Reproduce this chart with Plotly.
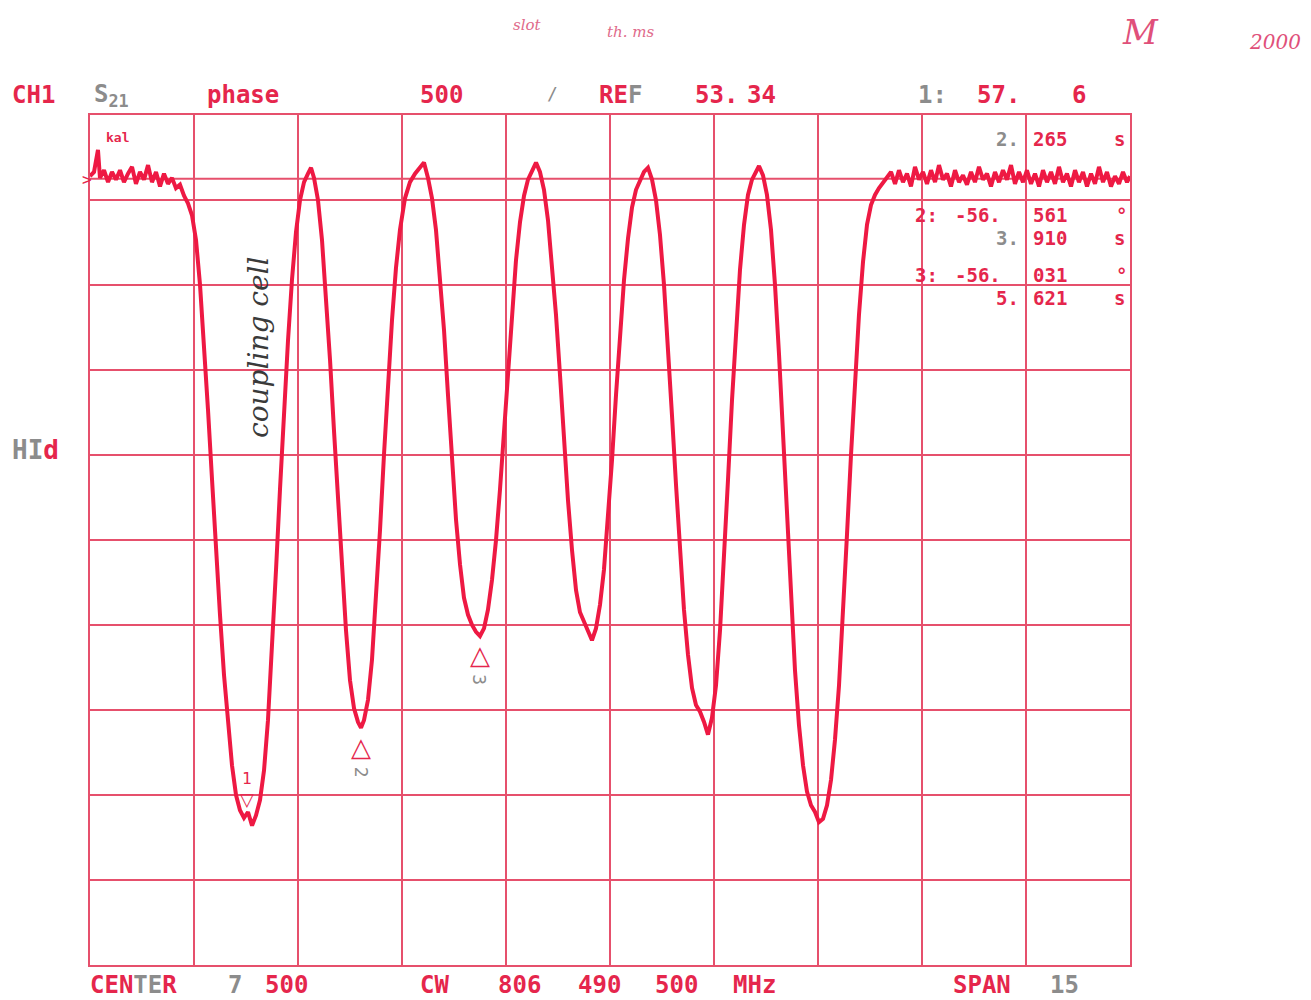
import plotly.graph_objects as go

# Sweep time (s) and S21 phase trace (in graticule divisions, 0 = bottom, 10 = top)
sweep_time = [
    0.000, 0.058, 0.115, 0.144, 0.202, 0.260, 0.317, 0.375, 0.433, 0.490, 0.548, 0.606, 0.663,
    0.721, 0.779, 0.837, 0.894, 0.952, 1.010, 1.067, 1.125, 1.183, 1.240, 1.298, 1.356, 1.413,
    1.471, 1.529, 1.587, 1.644, 1.702, 1.760, 1.817, 1.875, 1.933, 1.990, 2.048, 2.106, 2.163,
    2.221, 2.279, 2.337, 2.394, 2.452, 2.510, 2.567, 2.625, 2.683, 2.740, 2.798, 2.856, 2.913,
    2.971, 3.029, 3.087, 3.144, 3.188, 3.231, 3.288, 3.346, 3.404, 3.462, 3.519, 3.577, 3.635,
    3.692, 3.750, 3.808, 3.865, 3.909, 3.952, 4.010, 4.067, 4.125, 4.183, 4.240, 4.298, 4.356,
    4.413, 4.471, 4.543, 4.615, 4.688, 4.774, 4.817, 4.875, 4.933, 4.990, 5.048, 5.106, 5.163,
    5.221, 5.279, 5.337, 5.394, 5.452, 5.510, 5.567, 5.625, 5.683, 5.740, 5.798, 5.856, 5.913,
    5.971, 6.029, 6.087, 6.144, 6.202, 6.260, 6.317, 6.375, 6.433, 6.490, 6.548, 6.606, 6.663,
    6.721, 6.779, 6.837, 6.894, 6.952, 7.010, 7.067, 7.125, 7.183, 7.240, 7.298, 7.356, 7.413,
    7.471, 7.529, 7.587, 7.644, 7.702, 7.760, 7.817, 7.875, 7.933, 7.990, 8.048, 8.106, 8.163,
    8.221, 8.279, 8.337, 8.394, 8.452, 8.510, 8.567, 8.625, 8.683, 8.740, 8.798, 8.856, 8.913,
    8.971, 9.029, 9.087, 9.144, 9.202, 9.260, 9.317, 9.375, 9.433, 9.490, 9.548, 9.606, 9.649,
    9.707, 9.764, 9.822, 9.880, 9.938, 9.995, 10.053, 10.111, 10.168, 10.226, 10.284, 10.341,
    10.399, 10.457, 10.514, 10.572, 10.630, 10.688, 10.745, 10.803, 10.861, 10.918, 10.976,
    11.034, 11.091, 11.149, 11.207, 11.264, 11.322, 11.380, 11.438, 11.495, 11.553, 11.611,
    11.668, 11.726, 11.784, 11.841, 11.899, 11.957, 12.014, 12.072, 12.130, 12.188, 12.245,
    12.303, 12.361, 12.418, 12.476, 12.534, 12.591, 12.649, 12.707, 12.764, 12.822, 12.880,
    12.938, 12.995, 13.053, 13.111, 13.168, 13.226, 13.284, 13.341, 13.399, 13.457, 13.514,
    13.572, 13.630, 13.688, 13.745, 13.803, 13.861, 13.918, 13.976, 14.034, 14.091, 14.149,
    14.207, 14.264, 14.322, 14.380, 14.438, 14.495, 14.553, 14.611, 14.668, 14.726, 14.784,
    14.841, 14.899, 14.957, 15.000,
]
phase_div = [
    9.28, 9.33, 9.59, 9.26, 9.35, 9.21, 9.33, 9.24, 9.35, 9.21, 9.31, 9.39, 9.19,
    9.33, 9.24, 9.41, 9.21, 9.33, 9.16, 9.31, 9.19, 9.26, 9.14, 9.18, 9.05, 8.96,
    8.82, 8.53, 8.00, 7.35, 6.53, 5.71, 4.88, 4.12, 3.41, 2.82, 2.35, 2.00, 1.82,
    1.73, 1.80, 1.64, 1.76, 1.94, 2.29, 2.88, 3.71, 4.65, 5.59, 6.53, 7.35, 8.06,
    8.62, 9.00, 9.21, 9.31, 9.38, 9.26, 9.00, 8.53, 7.88, 7.12, 6.29, 5.47, 4.65,
    3.94, 3.35, 3.02, 2.86, 2.79, 2.88, 3.12, 3.59, 4.29, 5.12, 6.00, 6.82, 7.59,
    8.20, 8.65, 9.02, 9.21, 9.31, 9.40, 9.44, 9.26, 9.02, 8.65, 8.12, 7.47, 6.71,
    5.94, 5.24, 4.71, 4.32, 4.12, 4.00, 3.92, 3.87, 3.96, 4.18, 4.53, 5.00, 5.59,
    6.29, 7.00, 7.71, 8.29, 8.74, 9.05, 9.24, 9.35, 9.44, 9.33, 9.12, 8.76, 8.27,
    7.65, 6.94, 6.18, 5.47, 4.88, 4.41, 4.15, 4.04, 3.94, 3.82, 3.96, 4.24, 4.65,
    5.24, 5.94, 6.71, 7.41, 8.06, 8.55, 8.91, 9.12, 9.24, 9.33, 9.38, 9.24, 9.00,
    8.59, 8.00, 7.29, 6.47, 5.65, 4.88, 4.18, 3.65, 3.26, 3.06, 2.98, 2.86, 2.71,
    2.91, 3.29, 3.94, 4.76, 5.71, 6.65, 7.47, 8.18, 8.71, 9.06, 9.24, 9.33, 9.40,
    9.29, 9.06, 8.65, 8.00, 7.18, 6.24, 5.24, 4.29, 3.47, 2.82, 2.35, 2.04,
    1.88, 1.80, 1.68, 1.72, 1.88, 2.18, 2.65, 3.29, 4.12, 5.06, 6.00,
    6.88, 7.65, 8.27, 8.71, 8.94, 9.06, 9.14, 9.21, 9.26, 9.33, 9.19,
    9.35, 9.21, 9.31, 9.16, 9.39, 9.24, 9.33, 9.19, 9.35, 9.21, 9.41,
    9.24, 9.31, 9.16, 9.35, 9.21, 9.29, 9.18, 9.33, 9.21, 9.39, 9.24,
    9.31, 9.16, 9.33, 9.21, 9.35, 9.24, 9.41, 9.19, 9.33, 9.21, 9.35,
    9.19, 9.31, 9.16, 9.35, 9.21, 9.33, 9.19, 9.39, 9.21, 9.31, 9.16,
    9.35, 9.21, 9.33, 9.16, 9.31, 9.19, 9.39, 9.21, 9.33, 9.16, 9.28,
    9.19, 9.33, 9.21, 9.28,
]

# Marker readouts: number, sweep time (s), trace level at the marker (div)
marker_ids = ["1", "2", "3"]
marker_times = [2.265, 3.910, 5.621]
marker_levels = [1.80, 2.79, 3.87]

ref_level = 9.25          # reference line position (div)
x_span = [0.0, 15.0]
y_span = [0.0, 10.0]

RED = "#e5264c"
GRID = "#e6506c"
GRAY = "#8c8c8c"
MONO = "DejaVu Sans Mono"
HAND = "DejaVu Serif"

fig = go.Figure()
fig.add_trace(go.Scatter(
    x=sweep_time, y=phase_div, mode="lines",
    line=dict(color="#ee1943", width=4),
    hoverinfo="skip", showlegend=False,
))

fig.update_xaxes(range=x_span, dtick=1.5, tick0=0, showgrid=True, gridcolor=GRID,
                 gridwidth=2, showline=True, linecolor=GRID, linewidth=2, mirror=True,
                 showticklabels=False, ticks="", zeroline=False)
fig.update_yaxes(range=y_span, dtick=1, tick0=0, showgrid=True, gridcolor=GRID,
                 gridwidth=2, showline=True, linecolor=GRID, linewidth=2, mirror=True,
                 showticklabels=False, ticks="", zeroline=False)

# reference line
fig.add_shape(type="line", xref="paper", x0=0, x1=1, yref="y", y0=ref_level, y1=ref_level,
              line=dict(color=GRID, width=2), layer="below")

W, H = 1311, 1000
L, R, T, B = 90, 181, 115, 35
pw, ph = W - L - R, H - T - B


def px(xp, yp):
    return (xp - L) / pw, (H - B - yp) / ph


anns = []


def label(xp, yp, text, size=24, color=RED, anchor="left", angle=0, family=MONO, bold=True):
    xx, yy = px(xp, yp)
    if bold:
        text = "<b>" + text + "</b>"
    anns.append(dict(xref="paper", yref="paper", x=xx, y=yy, text=text, showarrow=False,
                     xanchor=anchor, yanchor="middle", textangle=angle,
                     font=dict(family=family, size=size, color=color)))


def g(t):
    return f"<span style='color:{GRAY}'>{t}</span>"


def row(yp, tokens, size=24):
    # tokens: (left edge px, text, colour)
    for xp, text, col in tokens:
        label(xp, yp, text, size=size, color=col)


# header line
row(95, [(10, "CH1", RED), (205, "phase", RED), (418, "500", RED),
         (597, "RE" + g("F"), RED), (693, "53.", RED), (745, "34", RED),
         (916, "1:", GRAY), (975, "57.", RED), (1070, "6", RED)])
label(92, 95, "S<sub>21</sub>", color=GRAY)
label(545, 93, "/", size=18, color=GRAY, bold=False)

# marker readout block
RS = 19
row(139, [(994, "2.", GRAY), (1031, "265", RED), (1112, "s", RED)], RS)
row(215, [(913, "2:", RED), (953, "-56.", RED), (1031, "561", RED), (1114, "°", RED)], RS)
row(238, [(994, "3.", GRAY), (1031, "910", RED), (1112, "s", RED)], RS)
row(275, [(913, "3:", RED), (953, "-56.", RED), (1031, "031", RED), (1114, "°", RED)], RS)
row(298, [(994, "5.", RED), (1031, "621", RED), (1112, "s", RED)], RS)

# side and bottom annotations
label(10, 450, g("HI") + "d", size=26)
row(985, [(88, "CEN" + g("TE") + "R", RED), (226, "7", GRAY),
          (263, "500", RED), (418, "CW", RED), (496, "806", RED), (576, "490", RED),
          (653, "500", RED), (731, "MHz", RED), (951, "SPAN", RED), (1048, "15", GRAY)], 24)
label(80, 180, ">", size=16, bold=False)
label(104, 137, "kal", size=13)

# handwritten notes
label(527, 25, "<i>slot</i>", size=15, color="#e06a8a", anchor="center", family=HAND, bold=False)
label(630, 32, "<i>th. ms</i>", size=15, color="#e06a8a", anchor="center", family=HAND, bold=False)
label(1140, 32, "<i>M</i>", size=34, color="#e0507a", anchor="center", family=HAND, bold=False)
label(1275, 42, "<i>2000</i>", size=20, color="#e0507a", anchor="center", family=HAND, bold=False)
label(258, 348, "<i>coupling cell</i>", size=28, color="#3a3a3a", anchor="center",
      angle=-90, family=HAND, bold=False)

# marker symbols on the trace
for mid, mt, ml in zip(marker_ids, marker_times, marker_levels):
    if mid == "1":
        anns.append(dict(x=mt, y=ml, xref="x", yref="y", text="▽", showarrow=False,
                         yanchor="bottom", yshift=0,
                         font=dict(family="DejaVu Sans", size=18, color=RED)))
        anns.append(dict(x=mt, y=ml, xref="x", yref="y", text=mid, showarrow=False,
                         yanchor="bottom", yshift=22,
                         font=dict(family=MONO, size=16, color=RED)))
    else:
        anns.append(dict(x=mt, y=ml, xref="x", yref="y", text="△", showarrow=False,
                         yanchor="top", yshift=-2,
                         font=dict(family="DejaVu Sans", size=26, color=RED)))
        anns.append(dict(x=mt, y=ml, xref="x", yref="y", text=mid, showarrow=False,
                         yanchor="middle", yshift=-44, textangle=90,
                         font=dict(family=MONO, size=18, color=GRAY)))

fig.update_layout(
    width=W, height=H,
    margin=dict(l=L, r=R, t=T, b=B),
    paper_bgcolor="white", plot_bgcolor="white",
    annotations=anns, showlegend=False,
)

fig.write_html("out.html")
